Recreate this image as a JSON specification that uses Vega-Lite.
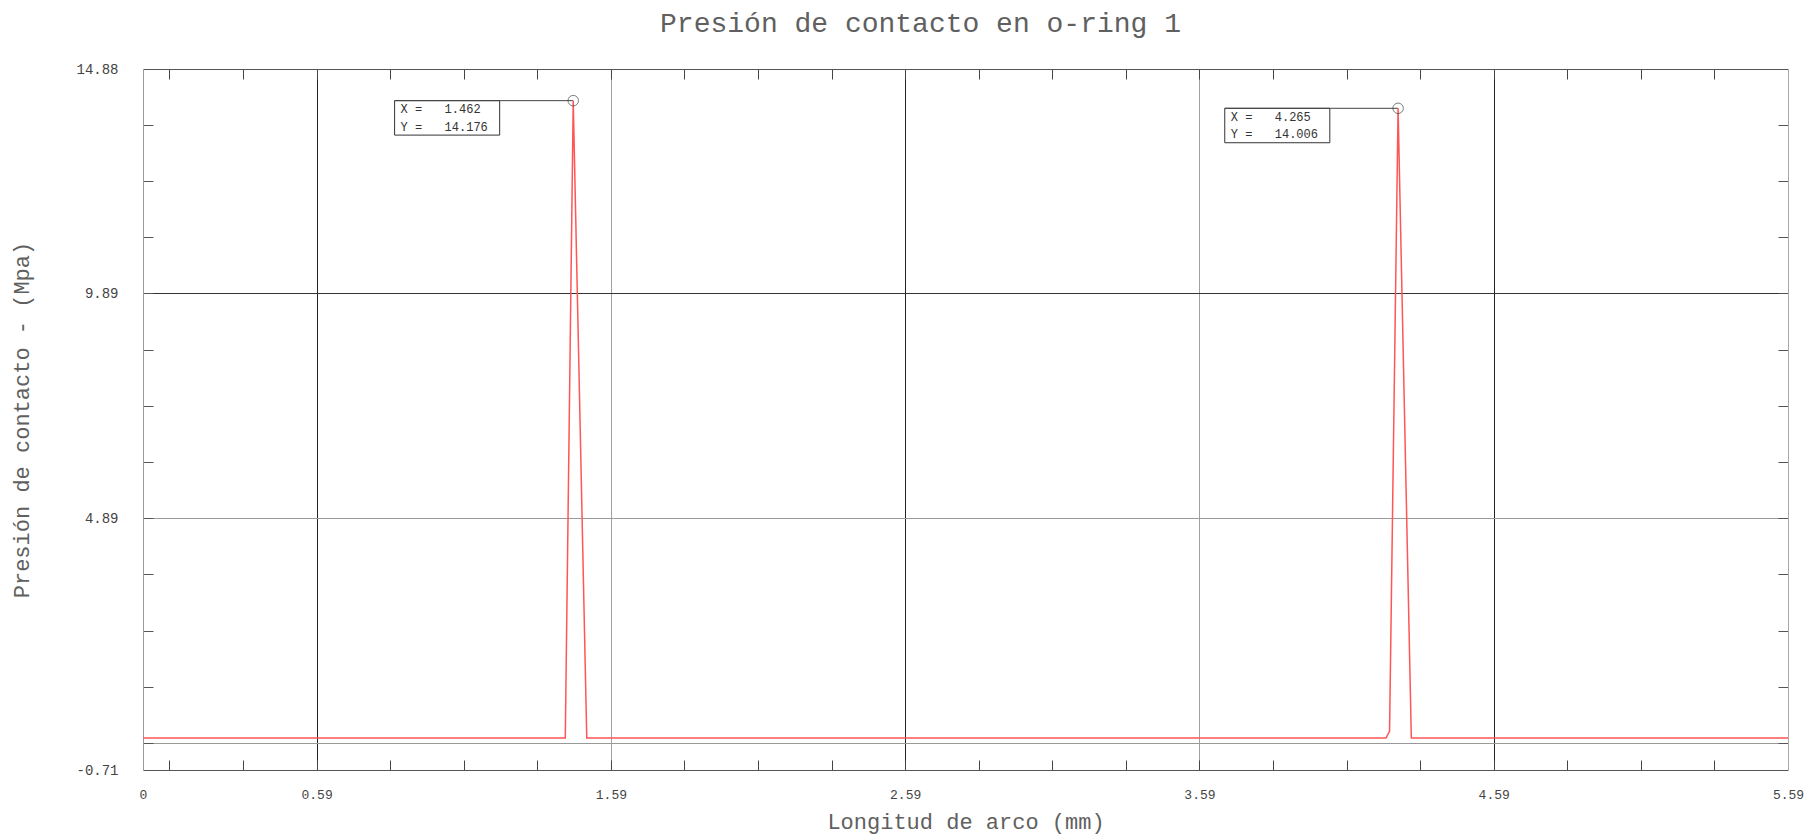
{
  "$schema": "https://vega.github.io/schema/vega-lite/v6.json",
  "autosize": {"type": "none"},
  "padding": {"left": 143, "top": 69, "right": 19, "bottom": 69},
  "width": 1645,
  "height": 701,
  "background": "white",
  "config": {"view": {"stroke": null}},
  "title": {
    "text": "Presión de contacto en o-ring 1",
    "font": "Liberation Mono",
    "fontSize": 28,
    "fontWeight": "normal",
    "color": "#606060",
    "anchor": "middle",
    "frame": "group",
    "offset": 24,
    "dx": -45
  },
  "datasets": {
    "curve": [
      {"x": 0, "y": 0},
      {"x": 1.435, "y": 0},
      {"x": 1.462, "y": 14.176},
      {"x": 1.508, "y": 0},
      {"x": 4.224, "y": 0},
      {"x": 4.236, "y": 0.15},
      {"x": 4.265, "y": 14.006},
      {"x": 4.31, "y": 0},
      {"x": 5.59, "y": 0}
    ],
    "peaks": [
      {"px": 1.462, "py": 14.176, "bx0": 0.855, "bx1": 1.212, "by0": 13.41},
      {"px": 4.265, "py": 14.006, "bx0": 3.676, "bx1": 4.033, "by0": 13.24}
    ],
    "notes": [
      {"x0": 0.855, "y": 13.985, "name": "X  =", "val": "1.462"},
      {"x0": 0.855, "y": 13.598, "name": "Y  =", "val": "14.176"},
      {"x0": 3.676, "y": 13.815, "name": "X  =", "val": "4.265"},
      {"x0": 3.676, "y": 13.428, "name": "Y  =", "val": "14.006"}
    ]
  },
  "resolve": {"axis": {"x": "independent", "y": "independent"}},
  "layer": [
    {
      "data": {"name": "peaks"},
      "mark": {"type": "rect", "fill": "white", "stroke": "#333", "strokeWidth": 1},
      "encoding": {
        "x": {"field": "bx0", "type": "quantitative", "scale": {"domain": [0, 5.59], "nice": false, "zero": false},
          "axis": {"orient": "bottom", "title": null, "values": [0.59, 2.59, 4.59], "grid": true, "gridColor": "#222", "gridWidth": 1, "gridOpacity": 1, "labels": false, "ticks": false, "domain": false}},
        "x2": {"field": "bx1"},
        "y": {"field": "py", "type": "quantitative", "scale": {"domain": [-0.71, 14.88], "nice": false, "zero": false},
          "axis": {"orient": "left", "title": null, "values": [9.89], "grid": true, "gridColor": "#333", "gridWidth": 1, "gridOpacity": 1, "labels": false, "ticks": false, "domain": false}},
        "y2": {"field": "by0"}
      }
    },
    {
      "data": {"name": "peaks"},
      "mark": {"type": "rule", "color": "#444", "strokeWidth": 1},
      "encoding": {
        "x": {"field": "bx0", "type": "quantitative", "scale": {"domain": [0, 5.59], "nice": false, "zero": false},
          "axis": {"orient": "bottom", "title": null, "values": [1.59, 3.59], "grid": true, "gridColor": "#a0a0a0", "gridWidth": 1, "gridOpacity": 1, "labels": false, "ticks": false, "domain": false}},
        "x2": {"field": "px"},
        "y": {"field": "py", "type": "quantitative", "scale": {"domain": [-0.71, 14.88], "nice": false, "zero": false},
          "axis": {"orient": "left", "title": null, "values": [4.89, -0.11], "grid": true, "gridColor": "#999", "gridWidth": 1, "gridOpacity": 1, "labels": false, "ticks": false, "domain": false}}
      }
    },
    {
      "data": {"name": "curve"},
      "mark": {"type": "line", "color": "#ff5555", "strokeWidth": 1.5, "interpolate": "linear"},
      "encoding": {
        "x": {"field": "x", "type": "quantitative", "scale": {"domain": [0, 5.59], "nice": false, "zero": false},
          "axis": {"orient": "bottom", "title": "Longitud de arco (mm)", "values": [0, 0.59, 1.59, 2.59, 3.59, 4.59, 5.59], "labelExpr": "toString(datum.value)", "grid": false, "ticks": false, "tickSize": 0, "domain": false, "labels": true, "labelFont": "Liberation Mono", "labelFontSize": 13, "labelColor": "#444", "labelPadding": 18, "labelFlush": false, "labelOverlap": false, "labelBound": false, "titleFont": "Liberation Mono", "titleFontSize": 22, "titleFontWeight": "normal", "titleColor": "#606060", "titlePadding": 10}},
        "y": {"field": "y", "type": "quantitative", "scale": {"domain": [-0.71, 14.88], "nice": false, "zero": false},
          "axis": {"orient": "left", "title": "Presión de contacto - (Mpa)", "values": [-0.71, 4.89, 9.89, 14.88], "labelExpr": "toString(datum.value)", "grid": false, "ticks": false, "tickSize": 0, "domain": false, "labels": true, "labelFont": "Liberation Mono", "labelFontSize": 14, "labelColor": "#444", "labelPadding": 25, "labelFlush": false, "labelOverlap": false, "labelBound": false, "titleFont": "Liberation Mono", "titleFontSize": 22, "titleFontWeight": "normal", "titleColor": "#606060", "titlePadding": 42}}
      }
    },
    {
      "data": {"name": "peaks"},
      "mark": {"type": "point", "shape": "circle", "filled": false, "size": 110, "stroke": "#444", "strokeWidth": 1},
      "encoding": {
        "x": {"field": "px", "type": "quantitative", "scale": {"domain": [0, 5.59], "nice": false, "zero": false},
          "axis": {"orient": "bottom", "title": null, "values": [0.09, 0.34, 0.59, 0.84, 1.09, 1.34, 1.59, 1.84, 2.09, 2.34, 2.59, 2.84, 3.09, 3.34, 3.59, 3.84, 4.09, 4.34, 4.59, 4.84, 5.09, 5.34], "grid": false, "labels": false, "ticks": true, "tickSize": -10, "tickColor": "#444", "tickWidth": 1, "domain": true, "domainColor": "#555", "domainWidth": 1}},
        "y": {"field": "py", "type": "quantitative", "scale": {"domain": [-0.71, 14.88], "nice": false, "zero": false},
          "axis": {"orient": "left", "title": null, "values": [-0.11, 1.14, 2.39, 3.64, 4.89, 6.14, 7.39, 8.64, 9.89, 11.14, 12.39, 13.64], "grid": false, "labels": false, "ticks": true, "tickSize": -10, "tickColor": "#555", "tickWidth": 1, "domain": true, "domainColor": "#999", "domainWidth": 1}}
      }
    },
    {
      "data": {"name": "notes"},
      "mark": {"type": "text", "align": "left", "baseline": "middle", "dx": 6, "font": "Liberation Mono", "fontSize": 12, "color": "#333"},
      "encoding": {
        "x": {"field": "x0", "type": "quantitative", "scale": {"domain": [0, 5.59], "nice": false, "zero": false},
          "axis": {"orient": "top", "title": null, "values": [0.09, 0.34, 0.59, 0.84, 1.09, 1.34, 1.59, 1.84, 2.09, 2.34, 2.59, 2.84, 3.09, 3.34, 3.59, 3.84, 4.09, 4.34, 4.59, 4.84, 5.09, 5.34], "grid": false, "labels": false, "ticks": true, "tickSize": -10, "tickColor": "#444", "tickWidth": 1, "domain": true, "domainColor": "#555", "domainWidth": 1}},
        "y": {"field": "y", "type": "quantitative", "scale": {"domain": [-0.71, 14.88], "nice": false, "zero": false},
          "axis": {"orient": "right", "title": null, "values": [-0.11, 1.14, 2.39, 3.64, 4.89, 6.14, 7.39, 8.64, 9.89, 11.14, 12.39, 13.64], "grid": false, "labels": false, "ticks": true, "tickSize": -10, "tickColor": "#555", "tickWidth": 1, "domain": true, "domainColor": "#aaa", "domainWidth": 1}},
        "text": {"field": "name"}
      }
    },
    {
      "data": {"name": "notes"},
      "mark": {"type": "text", "align": "left", "baseline": "middle", "dx": 50, "font": "Liberation Mono", "fontSize": 12, "color": "#333"},
      "encoding": {
        "x": {"field": "x0", "type": "quantitative", "scale": {"domain": [0, 5.59], "nice": false, "zero": false}, "axis": null},
        "y": {"field": "y", "type": "quantitative", "scale": {"domain": [-0.71, 14.88], "nice": false, "zero": false}, "axis": null},
        "text": {"field": "val"}
      }
    }
  ]
}
